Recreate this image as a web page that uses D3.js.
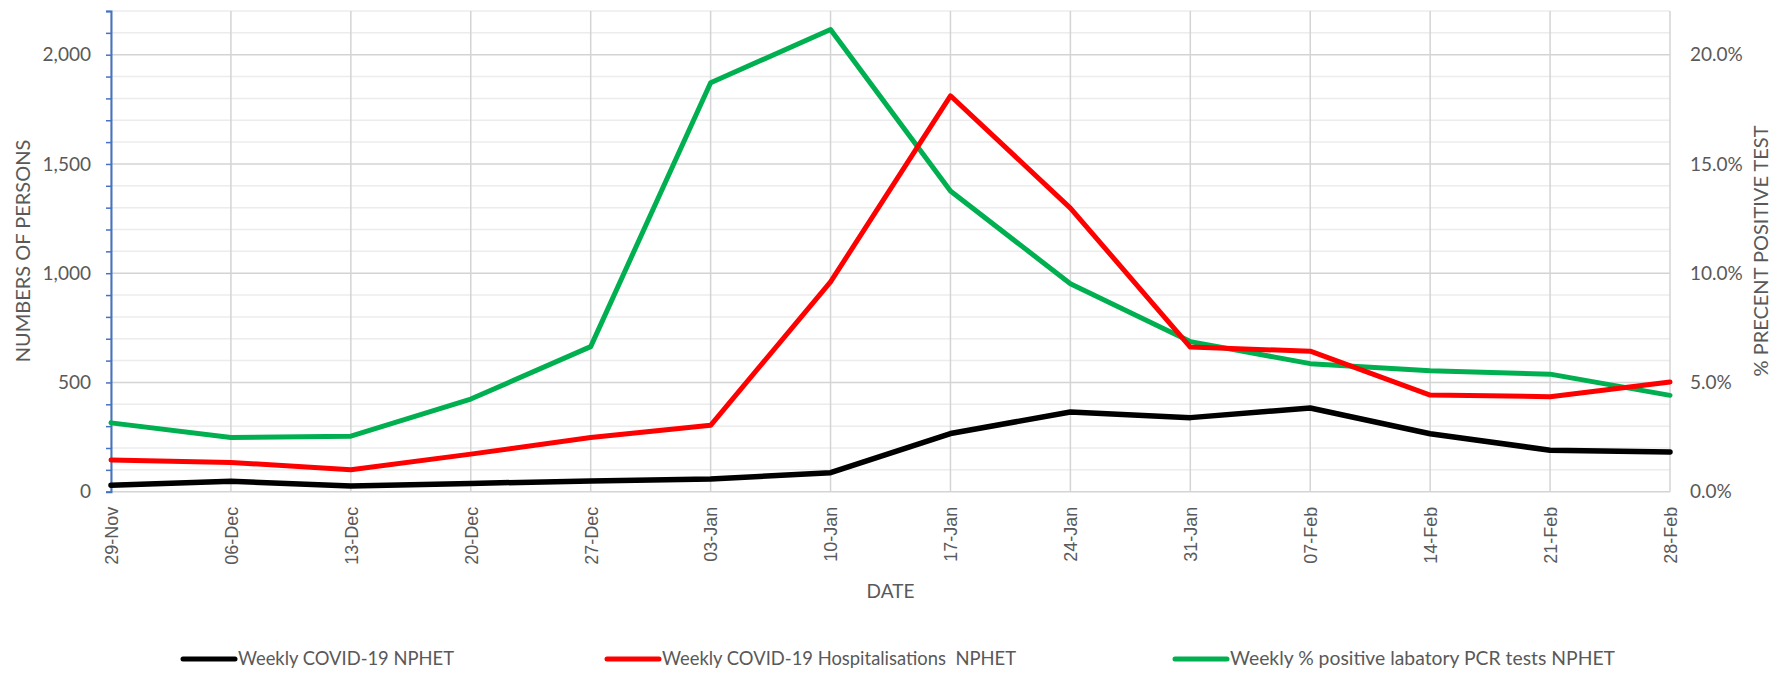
<!DOCTYPE html>
<html>
<head>
<meta charset="utf-8">
<script src="https://cdn.jsdelivr.net/npm/d3@7"></script>
<style>
  html, body { margin: 0; padding: 0; background: #fff; }
  svg { display: block; }
</style>
</head>
<body>
<svg id="chart" width="1787" height="674"></svg>
<script>
const categories = ["29-Nov","06-Dec","13-Dec","20-Dec","27-Dec","03-Jan","10-Jan","17-Jan","24-Jan","31-Jan","07-Feb","14-Feb","21-Feb","28-Feb"];
const weeklyCases = [30, 48, 26, 38, 49, 58, 87, 266, 365, 339, 383, 265, 190, 182];
const weeklyHospitalisations = [145, 134, 100, 172, 248, 304, 960, 1812, 1298, 662, 643, 442, 435, 502];
const weeklyPositivity = [0.0315, 0.0248, 0.0254, 0.0424, 0.0664, 0.1872, 0.2115, 0.1376, 0.0952, 0.0687, 0.0586, 0.0553, 0.0538, 0.0441];
const leftTicks = [0, 500, 1000, 1500, 2000];
const rightTicks = [0, 0.05, 0.10, 0.15, 0.20];
const seriesNames = ["Weekly COVID-19 NPHET", "Weekly COVID-19 Hospitalisations  NPHET", "Weekly % positive labatory PCR tests NPHET"];
const seriesColors = ["#000000", "#ff0000", "#00b050"];

const svg = d3.select("#chart");
const W = 1787, H = 674;
const m = {left: 111, right: 117, top: 11, bottom: 182.3};
const iw = W - m.left - m.right, ih = H - m.top - m.bottom;
const g = svg.append("g").attr("transform", `translate(${m.left},${m.top})`);

const x = d3.scalePoint().domain(categories).range([0, iw]);
const yL = d3.scaleLinear().domain([0, 2200]).range([ih, 0]);
const yR = d3.scaleLinear().domain([0, 0.22]).range([ih, 0]);

const calibri = "Lato, 'Open Sans', sans-serif";
const textCol = "#595959";

// minor horizontal gridlines
g.append("g").selectAll("line").data(d3.range(100, 2201, 100).filter(v => v % 500 !== 0))
  .join("line").attr("x1", 0).attr("x2", iw).attr("y1", d => yL(d)).attr("y2", d => yL(d))
  .attr("stroke", "#ececec").attr("stroke-width", 1.5);
// major horizontal gridlines
g.append("g").selectAll("line").data(leftTicks)
  .join("line").attr("x1", 0).attr("x2", iw).attr("y1", d => yL(d)).attr("y2", d => yL(d))
  .attr("stroke", "#d4d4d4").attr("stroke-width", 1.5);
// vertical gridlines
g.append("g").selectAll("line").data(categories)
  .join("line").attr("x1", d => x(d)).attr("x2", d => x(d)).attr("y1", 0).attr("y2", ih)
  .attr("stroke", "#d4d4d4").attr("stroke-width", 1.5);

// left axis
const leftAxis = g.append("g").call(d3.axisLeft(yL).tickValues(leftTicks).tickSize(0).tickPadding(20).tickFormat(d3.format(",")));
leftAxis.select(".domain").remove();
leftAxis.selectAll("text").attr("font-family", calibri).attr("font-size", 19).attr("fill", textCol);
// left axis line with minor ticks
const minorAxis = g.append("g").call(d3.axisLeft(yL).tickValues(d3.range(0, 2201, 100)).tickSize(5).tickFormat(""));
minorAxis.select(".domain").attr("stroke", "#4472c4").attr("stroke-width", 2);
minorAxis.selectAll(".tick line").attr("stroke", "#4472c4").attr("stroke-width", 1.5);

// right axis
const rightAxis = g.append("g").attr("transform", `translate(${iw},0)`)
  .call(d3.axisRight(yR).tickValues(rightTicks).tickSize(0).tickPadding(20).tickFormat(d3.format(".1%")));
rightAxis.select(".domain").remove();
rightAxis.selectAll("text").attr("font-family", calibri).attr("font-size", 19).attr("fill", textCol);

// bottom axis
const bottomAxis = g.append("g").attr("transform", `translate(0,${ih})`)
  .call(d3.axisBottom(x).tickSize(0).tickPadding(0));
bottomAxis.select(".domain").remove();
bottomAxis.selectAll("text")
  .attr("font-family", "'Liberation Sans', Arial, sans-serif").attr("font-size", 18).attr("fill", textCol)
  .attr("text-anchor", "end").attr("dy", "0.35em")
  .attr("transform", "translate(0,15) rotate(-90)").attr("x", 0).attr("y", 0);

// lines
const lineL = d3.line().x((d, i) => x(categories[i])).y(d => yL(d));
const lineR = d3.line().x((d, i) => x(categories[i])).y(d => yR(d));
g.append("path").datum(weeklyPositivity).attr("d", lineR).attr("fill", "none")
  .attr("stroke", seriesColors[2]).attr("stroke-width", 5).attr("stroke-linejoin", "round").attr("stroke-linecap", "round");
g.append("path").datum(weeklyHospitalisations).attr("d", lineL).attr("fill", "none")
  .attr("stroke", seriesColors[1]).attr("stroke-width", 5).attr("stroke-linejoin", "round").attr("stroke-linecap", "round");
g.append("path").datum(weeklyCases).attr("d", lineL).attr("fill", "none")
  .attr("stroke", seriesColors[0]).attr("stroke-width", 5.5).attr("stroke-linejoin", "round").attr("stroke-linecap", "round");

// axis titles
svg.append("text").attr("transform", `translate(30,251) rotate(-90)`)
  .attr("text-anchor", "middle").attr("font-family", calibri).attr("font-size", 20).attr("fill", textCol)
  .text("NUMBERS OF PERSONS");
svg.append("text").attr("transform", `translate(1768,251) rotate(-90)`)
  .attr("text-anchor", "middle").attr("font-family", calibri).attr("font-size", 20).attr("fill", textCol)
  .text("% PRECENT POSITIVE TEST");
svg.append("text").attr("x", m.left + iw / 2).attr("y", 598)
  .attr("text-anchor", "middle").attr("font-family", calibri).attr("font-size", 19).attr("fill", textCol)
  .text("DATE");

// legend
const legendX = [183, 607, 1175];
const legendTextLen = [216, 354, 385];
const leg = svg.append("g").selectAll("g").data(seriesNames).join("g")
  .attr("transform", (d, i) => `translate(${legendX[i]},659)`);
leg.append("line").attr("x1", 0).attr("x2", 52).attr("y1", 0).attr("y2", 0)
  .attr("stroke", (d, i) => seriesColors[i]).attr("stroke-width", 5).attr("stroke-linecap", "round");
leg.append("text").attr("x", 55).attr("y", 0).attr("dy", "0.35em")
  .attr("font-family", calibri).attr("font-size", 18.5).attr("fill", textCol)
  .attr("textLength", (d, i) => legendTextLen[i]).attr("lengthAdjust", "spacingAndGlyphs")
  .attr("xml:space", "preserve").style("white-space", "pre")
  .text(d => d);
</script>
</body>
</html>
